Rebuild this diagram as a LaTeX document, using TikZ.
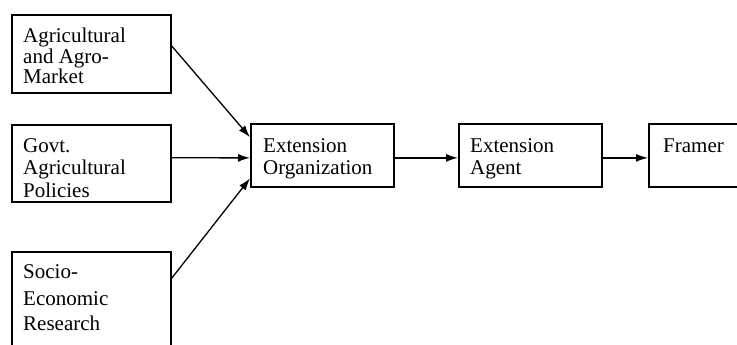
\documentclass[tikz,border=0pt]{standalone}
\usepackage{fontspec}
\setmainfont{Liberation Serif}
\newfontfamily\reffont{Liberation Serif}
\usetikzlibrary{arrows.meta,calc}
\begin{document}
\begin{tikzpicture}[x=1pt,y=-1pt,
  box/.style={draw=black,line width=1.6pt,inner sep=0pt,anchor=north west,minimum height=#1},
  txt/.style={anchor=base west,inner sep=0pt,font=\reffont\fontsize{21}{21}\selectfont},
  conn/.style={line width=1.3pt,-{Latex[length=12pt,width=8pt]}}]
\useasboundingbox (0,0) rectangle (737,345);
\fill[white] (0,0) rectangle (737,345);
% boxes
\node[box=78pt,minimum width=159pt] (b1) at (11,14) {};
\node[box=77pt,minimum width=159pt] (b2) at (11,124) {};
\node[box=110pt,minimum width=159pt] (b3) at (11,251) {};
\node[box=63pt,minimum width=143pt] (org) at (250,123) {};
\node[box=63pt,minimum width=143pt] (agent) at (458,123) {};
\node[box=63pt,minimum width=110pt] (farm) at (648,123) {};
% texts
\node[txt] (t1a) at (23,43) {Agricultural};
\node[txt] (t1b) at (23,64) {and Agro-};
\node[txt] (t1c) at (23,84) {Market};
\node[txt] (t2a) at (23,152) {Govt.};
\node[txt] (t2b) at (23,175) {Agricultural};
\node[txt] (t2c) at (23,197) {Policies};
\node[txt] (t3a) at (23,278) {Socio-};
\node[txt] (t3b) at (23,305) {Economic};
\node[txt] (t3c) at (23,330) {Research};
\node[txt] (t4a) at (263,152) {Extension};
\node[txt] (t4b) at (263,175) {Organization};
\node[txt] (t5a) at (470,152) {Extension};
\node[txt] (t5b) at (470,175) {Agent};
\node[txt] (t6a) at (663,153) {Framer};
% connectors
\draw[conn] ($(b1.north east)!0.4!(b1.south east)$) -- ($(org.north west)!0.22!(org.south west)$);
\draw[conn] ($(b2.north east)!0.43!(b2.south east)$) -- ($(org.north west)!0.54!(org.south west)$);
\draw[conn] ($(b3.north east)!0.245!(b3.south east)$) -- ($(org.north west)!0.857!(org.south west)$);
\draw[conn] ($(org.north east)!0.54!(org.south east)$) -- ($(agent.north west)!0.54!(agent.south west)$);
\draw[conn] ($(agent.north east)!0.54!(agent.south east)$) -- ($(farm.north west)!0.54!(farm.south west)$);
\end{tikzpicture}
\end{document}
